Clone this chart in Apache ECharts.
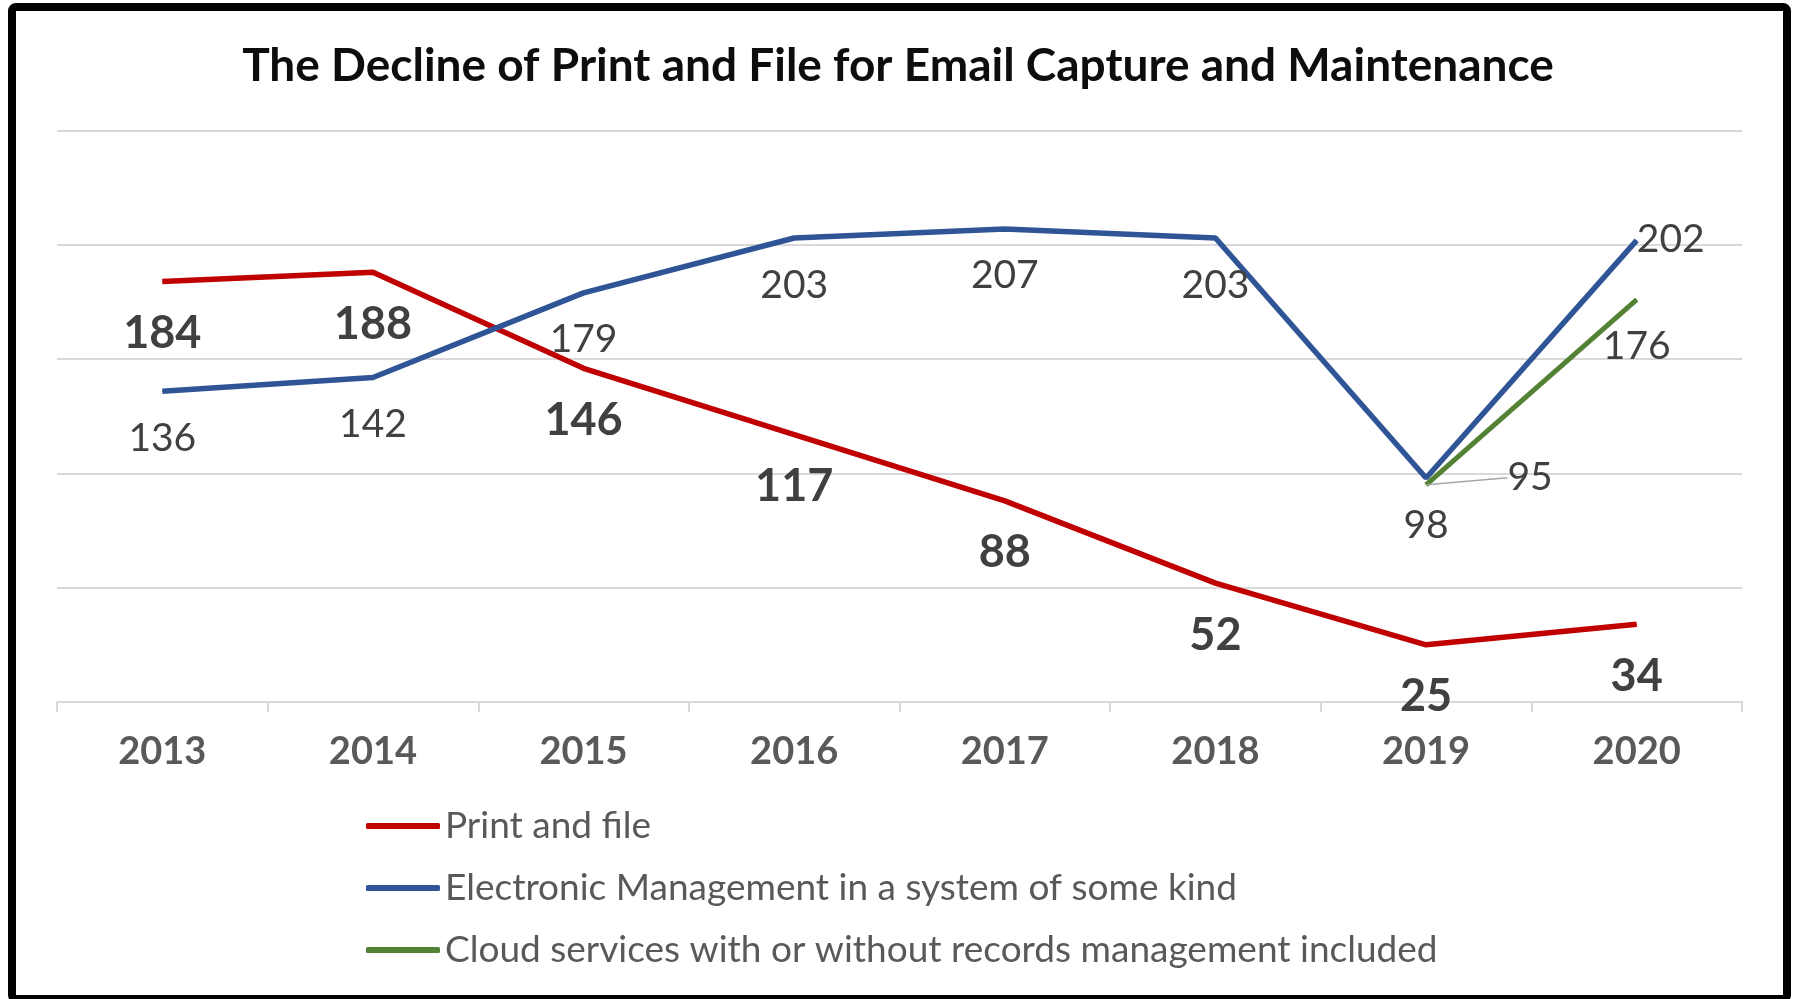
<!DOCTYPE html>
<html>
<head>
<meta charset="utf-8">
<script src="https://cdn.jsdelivr.net/npm/echarts@6/dist/echarts.min.js"></script>
<style>
html,body{margin:0;padding:0;background:#fff;}
#c{width:1796px;height:999px;}
</style>
</head>
<body>
<div id="c"></div>
<script>
const titleText = 'The Decline of Print and File for Email Capture and Maintenance';
const categories = ['2013','2014','2015','2016','2017','2018','2019','2020'];
const seriesNames = ['Print and file','Electronic Management in a system of some kind','Cloud services with or without records management included'];
const printFile = [184,188,146,117,88,52,25,34];
const electronic = [136,142,179,203,207,203,98,202];
const cloud = [null,null,null,null,null,null,95,176];
const yMin = 0, yMax = 250, yInterval = 50;

const FONT = 'Lato';
const labelColor = '#404040';

const cloudData = cloud.map(function (v, i) {
  if (i === 6) return {value: v, labelLine: {show: true, lineStyle: {color: '#a6a6a6', width: 1.5}}};
  return v;
});

const chart = echarts.init(document.getElementById('c'));
chart.setOption({
  backgroundColor: '#fff',
  animation: false,
  title: {
    text: titleText,
    left: 'center',
    top: 38,
    textStyle: {fontFamily: FONT, fontWeight: 'bold', fontSize: 46, color: '#0d0d0d'}
  },
  legend: {
    orient: 'vertical',
    left: 361,
    top: 801,
    itemWidth: 74,
    itemHeight: 6,
    itemGap: 22,
    icon: 'roundRect',
    textStyle: {fontFamily: FONT, fontSize: 37, color: '#595959', lineHeight: 40},
    data: seriesNames
  },
  grid: {left: 57, right: 54, top: 130.6, bottom: 297},
  xAxis: {
    type: 'category',
    data: categories,
    boundaryGap: true,
    axisLine: {lineStyle: {color: '#d9d9d9', width: 2}},
    axisTick: {show: true, interval: 0, length: 10, lineStyle: {color: '#d9d9d9', width: 2}},
    axisLabel: {fontFamily: FONT, fontWeight: 'bold', fontSize: 38, color: '#595959', margin: 31}
  },
  yAxis: {
    type: 'value',
    min: yMin, max: yMax, interval: yInterval,
    axisLabel: {show: false},
    axisLine: {show: false},
    axisTick: {show: false},
    splitLine: {lineStyle: {color: '#d9d9d9', width: 2}}
  },
  graphic: [{
    type: 'rect',
    shape: {x: 12, y: 7, width: 1775, height: 992, r: 4},
    style: {fill: 'none', stroke: '#000', lineWidth: 8},
    z: 100
  }],
  series: [
    {
      name: seriesNames[0], type: 'line', data: printFile,
      symbol: 'circle', symbolSize: 1, showSymbol: true,
      lineStyle: {color: '#C00000', width: 5.5},
      itemStyle: {color: '#C00000'},
      label: {show: true, position: 'inside', fontFamily: FONT, fontWeight: 'bold', fontSize: 45, color: labelColor},
      labelLayout: function () { return {dy: 52}; }
    },
    {
      name: seriesNames[1], type: 'line', data: electronic,
      symbol: 'circle', symbolSize: 1, showSymbol: true,
      lineStyle: {color: '#2F5597', width: 5.5},
      itemStyle: {color: '#2F5597'},
      label: {show: true, position: 'inside', fontFamily: FONT, fontSize: 39, color: labelColor},
      labelLayout: function (p) {
        if (p.dataIndex === 7) return {dx: 34, dy: -1};
        return {dy: 47};
      }
    },
    {
      name: seriesNames[2], type: 'line', data: cloudData,
      symbol: 'circle', symbolSize: 1, showSymbol: true,
      lineStyle: {color: '#548235', width: 5},
      itemStyle: {color: '#548235'},
      label: {show: true, position: 'inside', fontFamily: FONT, fontSize: 39, color: labelColor},
      labelLine: {show: false},
      labelLayout: function (p) {
        if (p.dataIndex === 6) return {dx: 104, dy: -7};
        return {dy: 47};
      }
    }
  ]
});
</script>
</body>
</html>
